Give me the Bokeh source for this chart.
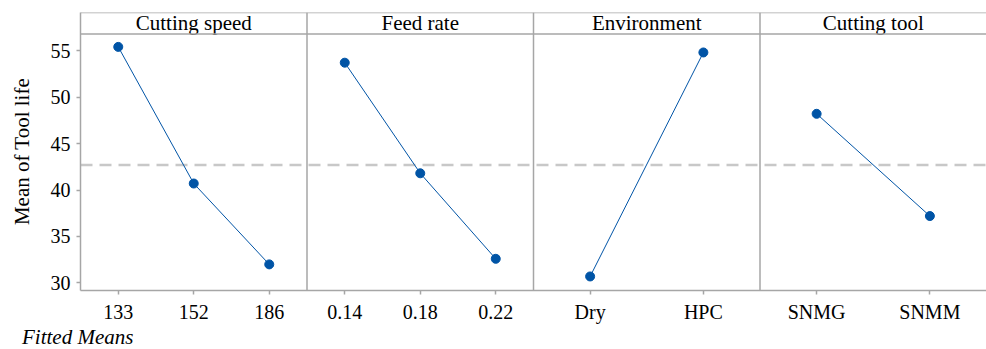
from bokeh.plotting import figure
from bokeh.layouts import column
from bokeh.models import FixedTicker, Span, Range1d, Div, ColumnDataSource
from bokeh.core.properties import value
from bokeh.embed import file_html
from bokeh.resources import INLINE

# Factors, their levels and the fitted mean of tool life at each level
factors = ["Cutting speed", "Feed rate", "Environment", "Cutting tool"]
speed_levels = ["133", "152", "186"]
speed_means = [55.4, 40.7, 32.0]
feed_levels = ["0.14", "0.18", "0.22"]
feed_means = [53.7, 41.8, 32.6]
env_levels = ["Dry", "HPC"]
env_means = [30.7, 54.8]
tool_levels = ["SNMG", "SNMM"]
tool_means = [48.2, 37.2]
grand_mean = 42.7
y_ticks = [30, 35, 40, 45, 50, 55]

FONT = "Liberation Serif"
BLUE = "#0054A6"
BORDER = "#A6A6A6"

panels = [
    (speed_levels, speed_means),
    (feed_levels, feed_means),
    (env_levels, env_means),
    (tool_levels, tool_means),
]

PANEL_W = 3.0               # width of each factor panel in x units
Y_LO, Y_HEAD, Y_HI = 29.19, 56.78, 59.1   # data bottom, header strip bottom, header top

p = figure(width=986, height=326, output_backend="svg", toolbar_location=None,
           x_range=Range1d(0, PANEL_W * len(panels)), y_range=Range1d(Y_LO, Y_HI),
           min_border_left=80, min_border_right=0, min_border_top=12,
           min_border_bottom=36)
p.outline_line_color = None
p.xgrid.visible = False
p.ygrid.visible = False
p.background_fill_color = "white"
p.border_fill_color = "white"

# grand mean reference line
p.add_layout(Span(location=grand_mean, dimension="width", line_color="#C8C8C8",
                  line_width=2.5, line_dash="12 7", level="underlay"))

tick_pos = []
overrides = {}
for k, (levels, means) in enumerate(panels):
    n = len(levels)
    xs = [PANEL_W * k + PANEL_W * (i + 0.5) / n for i in range(n)]
    for x, lab in zip(xs, levels):
        tick_pos.append(x)
        overrides[x] = lab
    src = ColumnDataSource(dict(x=xs, y=means))
    p.line("x", "y", source=src, line_color=BLUE, line_width=1)
    p.scatter("x", "y", source=src, size=9, fill_color=BLUE, line_color=BLUE)
    if k > 0:
        p.add_layout(Span(location=PANEL_W * k, dimension="height",
                          line_color=BORDER, line_width=1.5, level="underlay"))

# header strip with factor names
p.add_layout(Span(location=Y_HEAD, dimension="width", line_color=BORDER, line_width=1.5))
p.add_layout(Span(location=Y_HI, dimension="width", line_color=BORDER, line_width=1.5))
p.text(x=[PANEL_W * (k + 0.5) for k in range(len(factors))],
       y=[(Y_HEAD + Y_HI) / 2] * len(factors), text=factors,
       text_font=value(FONT), text_font_size="21px", text_color="black",
       text_align="center", text_baseline="middle")

# axes
p.xaxis.ticker = FixedTicker(ticks=tick_pos)
p.xaxis.major_label_overrides = overrides
p.yaxis.ticker = FixedTicker(ticks=y_ticks)
for ax in (p.xaxis[0], p.yaxis[0]):
    ax.axis_line_color = BORDER
    ax.axis_line_width = 1.5
    ax.major_tick_line_color = BORDER
    ax.major_tick_line_width = 1.5
    ax.major_tick_in = 0
    ax.major_tick_out = 4
    ax.minor_tick_line_color = None
    ax.major_label_text_font = FONT
    ax.major_label_text_font_size = "20px"
    ax.major_label_text_color = "black"
    ax.major_label_standoff = 6
p.yaxis.axis_label = "Mean of Tool life"
p.yaxis.axis_label_text_font = FONT
p.yaxis.axis_label_text_font_size = "21px"
p.yaxis.axis_label_text_font_style = "normal"
p.yaxis.axis_label_text_color = "black"
p.yaxis.axis_label_standoff = 14

# footnote under the chart
note = Div(text='<span style="font-family: \'Liberation Serif\'; font-style: italic; '
                'font-size: 21px; line-height: 23px; color: black; white-space: nowrap;">'
                'Fitted Means</span>',
           width=300, height=23, margin=(0, 0, 0, 22))

layout = column(p, note, spacing=0)
open("out.html", "w").write(file_html(layout, INLINE))
